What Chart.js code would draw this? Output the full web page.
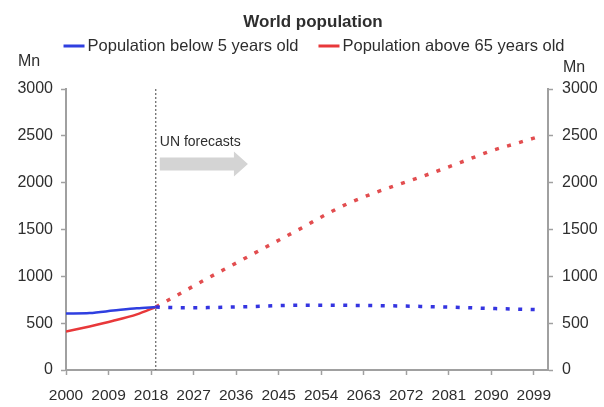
<!DOCTYPE html>
<html>
<head>
<meta charset="utf-8">
<title>World population</title>
<script src="https://cdn.jsdelivr.net/npm/chart.js@4.4.1/dist/chart.umd.min.js"></script>
<style>
  html, body { margin: 0; padding: 0; background: #fff; }
</style>
</head>
<body>
<canvas id="popChart" width="604" height="407"></canvas>
<script>
// World population: under-5s vs over-65s, UN forecasts after 2019
const histYears = [2000, 2005, 2010, 2015, 2019];
const below5Hist = [602, 608, 634, 660, 672];
const above65Hist = [410, 465, 525, 594, 672];

const forecastYears = [2019, 2025, 2030, 2035, 2040, 2045, 2050, 2055, 2060, 2065, 2070, 2075, 2080, 2085, 2090, 2095, 2100];
const below5Forecast = [672, 665, 666, 672, 678, 688, 692, 692, 690, 688, 684, 679, 673, 665, 657, 650, 644];
const above65Forecast = [672, 840, 980, 1115, 1250, 1385, 1520, 1660, 1785, 1885, 1975, 2060, 2150, 2245, 2340, 2415, 2490];

const xTickYears = [2000, 2009, 2018, 2027, 2036, 2045, 2054, 2063, 2072, 2081, 2090, 2099];
const yTickValues = [0, 500, 1000, 1500, 2000, 2500, 3000];

const forecastStart = 2019;
const arrowTipYear = 2038.5;
const arrowValue = 2200;
const noteValue = 2430;

const FONT = "'Liberation Sans', Arial, sans-serif";
const BLUE = '#2f3fe0';
const RED = '#e8383a';
const BLUE_DOT = '#3434e0';
const RED_DOT = '#e24d4f';
const AXIS = '#a0a0a0';
const TEXT = '#2e2e2e';

function pts(xs, ys) {
    return xs.map((x, i) => ({ x: x, y: ys[i] }));
}

// title, legend, unit labels and the forecast marker
const decorPlugin = {
    id: 'decor',
    beforeDatasetsDraw(chart) {
        const ctx = chart.ctx;
        const area = chart.chartArea;
        const x = chart.scales.x.getPixelForValue(forecastStart);
        ctx.save();
        ctx.strokeStyle = '#444';
        ctx.lineWidth = 1;
        ctx.setLineDash([2, 2]);
        ctx.beginPath();
        ctx.moveTo(x, area.top);
        ctx.lineTo(x, area.bottom);
        ctx.stroke();
        ctx.setLineDash([]);

        // grey arrow
        const x0 = x + 4;
        const x1 = chart.scales.x.getPixelForValue(arrowTipYear);
        const yc = chart.scales.y.getPixelForValue(arrowValue);
        ctx.fillStyle = '#d4d4d4';
        ctx.beginPath();
        ctx.moveTo(x0, yc - 6.5);
        ctx.lineTo(x1 - 14, yc - 6.5);
        ctx.lineTo(x1 - 14, yc - 12.5);
        ctx.lineTo(x1, yc);
        ctx.lineTo(x1 - 14, yc + 12.5);
        ctx.lineTo(x1 - 14, yc + 6.5);
        ctx.lineTo(x0, yc + 6.5);
        ctx.closePath();
        ctx.fill();

        ctx.fillStyle = TEXT;
        ctx.font = '14px ' + FONT;
        ctx.textAlign = 'left';
        ctx.textBaseline = 'middle';
        ctx.fillText('UN forecasts', x0, chart.scales.y.getPixelForValue(noteValue));
        ctx.restore();
    },
    afterDraw(chart) {
        const ctx = chart.ctx;
        ctx.save();
        ctx.fillStyle = TEXT;
        ctx.textBaseline = 'middle';

        ctx.font = 'bold 17px ' + FONT;
        ctx.textAlign = 'center';
        ctx.fillText('World population', 313, 22);

        // legend (only the two solid series)
        ctx.font = '16.5px ' + FONT;
        ctx.textAlign = 'left';
        const items = chart.data.datasets.slice(0, 2);
        const markW = 21, markGap = 3, itemGap = 20;
        let total = 0;
        items.forEach((d, i) => {
            total += markW + markGap + ctx.measureText(d.label).width;
            if (i > 0) total += itemGap;
        });
        let lx = 314 - total / 2;
        const ly = 46;
        items.forEach(d => {
            ctx.fillStyle = d.borderColor;
            ctx.fillRect(lx, ly - 1.5, markW, 3);
            lx += markW + markGap;
            ctx.fillStyle = TEXT;
            ctx.fillText(d.label, lx, ly);
            lx += ctx.measureText(d.label).width + itemGap;
        });

        ctx.font = '16px ' + FONT;
        ctx.fillText('Mn', 18, 62);
        ctx.fillText('Mn', 563, 68);
        ctx.restore();
    }
};

function axisTicks(values) {
    return function(scale) {
        scale.ticks = values.map(v => ({ value: v }));
    };
}

const yAxis = (position, width, pad) => ({
    type: 'linear',
    position: position,
    min: 0,
    max: 3000,
    afterBuildTicks: axisTicks(yTickValues),
    afterFit: function(scale) { scale.width = width; },
    ticks: {
        color: TEXT,
        padding: pad,
        font: { family: FONT, size: 16 },
        callback: v => String(v)
    },
    grid: { drawOnChartArea: false, tickLength: 5, tickColor: AXIS, tickWidth: 1.5 },
    border: { color: AXIS, width: 2 }
});

const popChart = new Chart(document.getElementById('popChart'), {
    type: 'line',
    data: {
        datasets: [
            {
                label: 'Population below 5 years old',
                data: pts(histYears, below5Hist),
                borderColor: BLUE,
                backgroundColor: BLUE,
                borderWidth: 2.5,
                pointRadius: 0,
                tension: 0.3
            },
            {
                label: 'Population above 65 years old',
                data: pts(histYears, above65Hist),
                borderColor: RED,
                backgroundColor: RED,
                borderWidth: 2.5,
                pointRadius: 0,
                tension: 0.3
            },
            {
                label: 'Population below 5 years old (UN forecast)',
                data: pts(forecastYears, below5Forecast),
                borderColor: BLUE_DOT,
                borderWidth: 3.5,
                borderDash: [4, 8.5],
                pointRadius: 0,
                cubicInterpolationMode: 'monotone'
            },
            {
                label: 'Population above 65 years old (UN forecast)',
                data: pts(forecastYears, above65Forecast),
                borderColor: RED_DOT,
                borderWidth: 3.5,
                borderDash: [4, 8.5],
                pointRadius: 0,
                cubicInterpolationMode: 'monotone'
            }
        ]
    },
    options: {
        responsive: false,
        animation: false,
        layout: { padding: { top: 89, left: 0, right: 0, bottom: 0 } },
        plugins: {
            legend: { display: false },
            title: { display: false },
            tooltip: { enabled: false }
        },
        scales: {
            x: {
                type: 'linear',
                min: 2000,
                max: 2102,
                afterBuildTicks: axisTicks(xTickYears),
                afterFit: function(scale) { scale.height = 37; },
                ticks: {
                    color: TEXT,
                    padding: 11,
                    maxRotation: 0,
                    autoSkip: false,
                    font: { family: FONT, size: 15.5 },
                    callback: v => String(v)
                },
                grid: { drawOnChartArea: false, tickLength: 5, tickColor: AXIS, tickWidth: 1.5 },
                border: { color: AXIS, width: 2 }
            },
            y: yAxis('left', 66, 8),
            y2: yAxis('right', 56, 9)
        }
    },
    plugins: [decorPlugin]
});
</script>
</body>
</html>
